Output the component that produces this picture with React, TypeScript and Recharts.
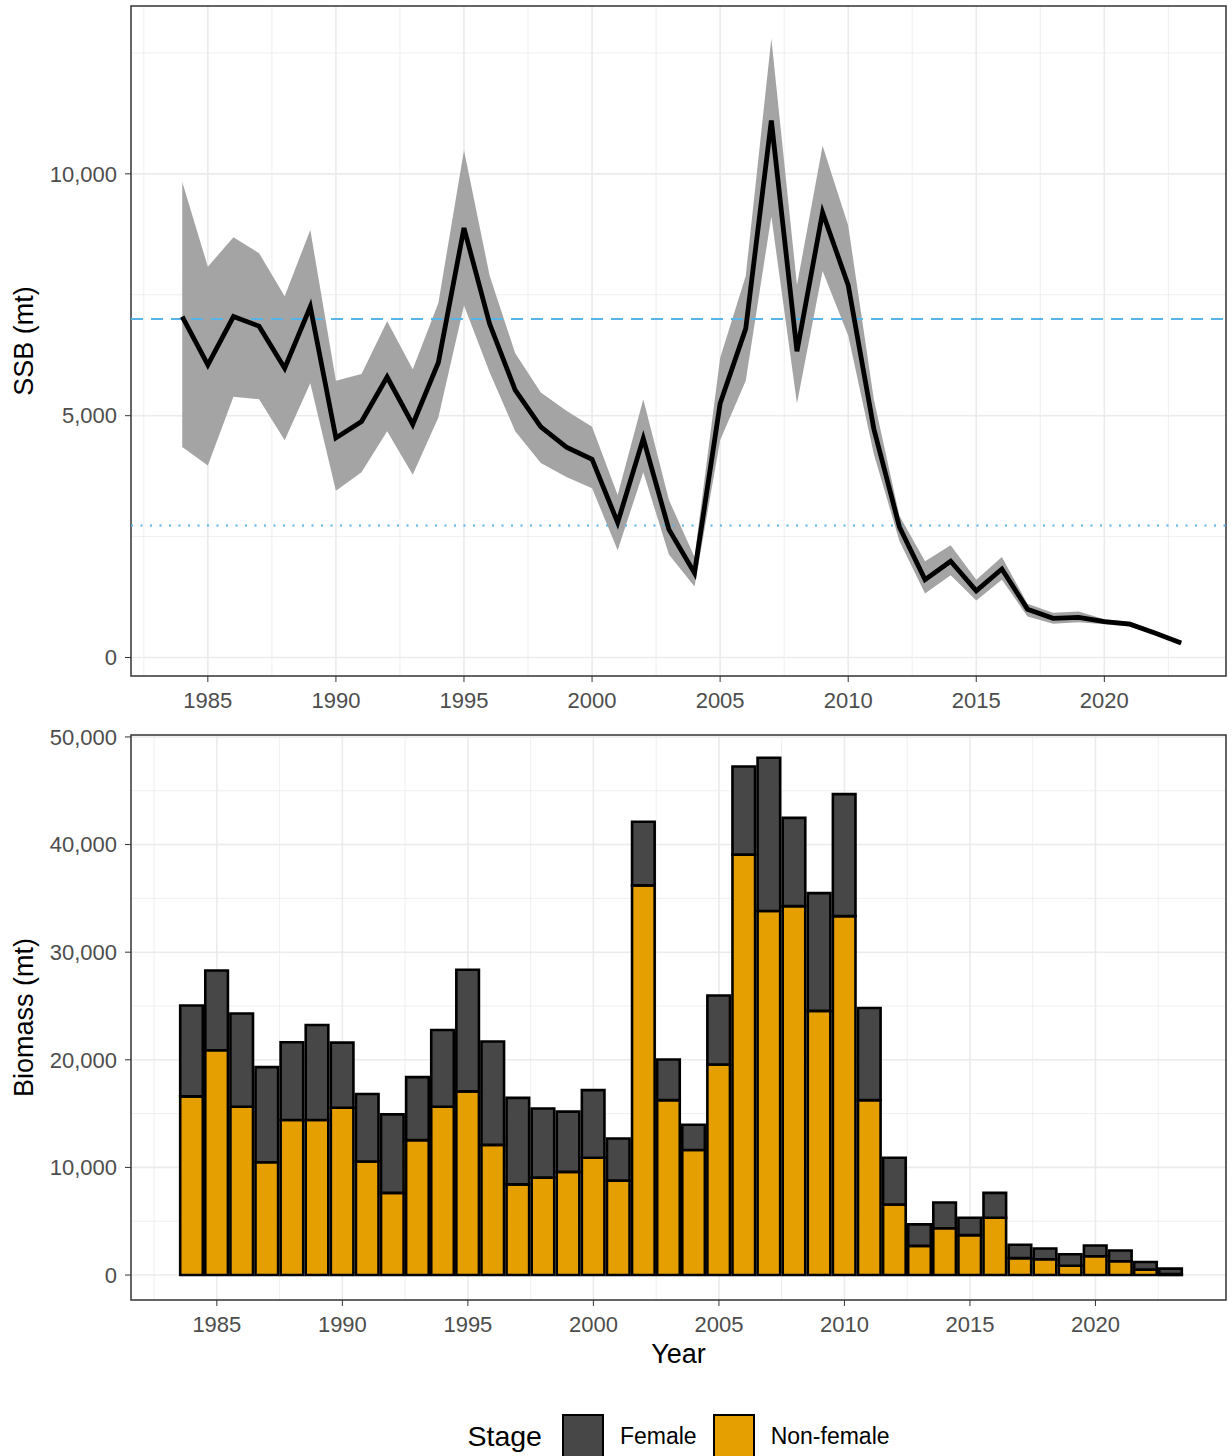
import { ComposedChart, Line, Area, Bar, XAxis, YAxis, CartesianGrid, ReferenceLine, ReferenceArea, Legend } from 'recharts';

const years = [
  1984, 1985, 1986, 1987, 1988, 1989, 1990, 1991, 1992, 1993,
  1994, 1995, 1996, 1997, 1998, 1999, 2000, 2001, 2002, 2003,
  2004, 2005, 2006, 2007, 2008, 2009, 2010, 2011, 2012, 2013,
  2014, 2015, 2016, 2017, 2018, 2019, 2020, 2021, 2022, 2023,
];

// spawning stock biomass (mt) with its interval
const ssb = [
  7050, 6050, 7050, 6850, 5980, 7250, 4540, 4880, 5800, 4820,
  6100, 8880, 6900, 5530, 4770, 4350, 4100, 2790, 4530, 2650,
  1750, 5250, 6800, 11100, 6330, 9200, 7700, 4730, 2700, 1610,
  1990, 1380, 1830, 1000, 810, 830, 740, 690, 500, 300,
];
const ssbLower = [
  4350, 3970, 5390, 5340, 4490, 5670, 3450, 3830, 4680, 3780,
  4960, 7280, 5900, 4680, 4020, 3730, 3500, 2220, 3830, 2130,
  1470, 4490, 5720, 9120, 5250, 7990, 6660, 4210, 2410, 1325,
  1700, 1180, 1610, 850, 700, 730, 690, 640, 470, 270,
];
const ssbUpper = [
  9830, 8080, 8690, 8360, 7470, 8840, 5720, 5860, 6950, 5960,
  7330, 10490, 7900, 6290, 5480, 5100, 4770, 3360, 5340, 3260,
  2080, 6190, 7890, 12800, 7700, 10580, 8930, 5340, 2930, 1990,
  2320, 1610, 2080, 1110, 925, 950, 790, 740, 540, 330,
];
const ssbTarget = 7000;
const ssbLimit = 2730;

// biomass by stage (mt)
const female = [
  8450, 7420, 8660, 8840, 7230, 8840, 6050, 6270, 7300, 5850,
  7130, 11300, 9610, 8040, 6420, 5590, 6280, 3920, 5910, 3780,
  2350, 6420, 8190, 14250, 8200, 10940, 11340, 8560, 4350, 2000,
  2390, 1610, 2310, 1250, 1000, 1070, 1000, 1000, 710, 520,
];
const nonFemale = [
  16600, 20880, 15640, 10480, 14400, 14400, 15550, 10550, 7630, 12540,
  15640, 17070, 12090, 8420, 9050, 9590, 10900, 8770, 36210, 16250,
  11620, 19560, 39060, 33820, 34280, 24550, 33350, 16250, 6550, 2710,
  4350, 3710, 5320, 1570, 1460, 860, 1750, 1280, 500, 80,
];

const yearTicks = [1985, 1990, 1995, 2000, 2005, 2010, 2015, 2020];
const yearMinor = [1982.5, 1987.5, 1992.5, 1997.5, 2002.5, 2007.5, 2012.5, 2017.5, 2022.5];
const ssbTicks = [0, 5000, 10000];
const ssbMinor = [2500, 7500, 12500];
const biomassTicks = [0, 10000, 20000, 30000, 40000, 50000];
const biomassMinor = [5000, 15000, 25000, 35000, 45000];

const ssbData = years.map((year, i) => ({ year, ssb: ssb[i], band: [ssbLower[i], ssbUpper[i]] }));
const biomassData = years.map((year, i) => ({ year, female: female[i], nonFemale: nonFemale[i] }));

const FEMALE = '#474747';
const ORANGE = '#E69F00';
const REF_BLUE = '#56B4E9';
const GRID = '#EBEBEB';
const TICK = { fill: '#4D4D4D', fontSize: 22 };

const stageItems = [
  { name: 'Female', color: FEMALE },
  { name: 'Non-female', color: ORANGE },
];

const fmt = (v: number) => v.toLocaleString('en-US');

const yTitle = (text: string) => (props: any) => {
  const vb = props.viewBox;
  const cy = vb.y + vb.height / 2;
  return (
    <text x={24} y={cy} transform={`rotate(-90, 24, ${cy})`} textAnchor="middle" dominantBaseline="central" fontSize={27} fill="#000">
      {text}
    </text>
  );
};

const xTitle = (props: any) => {
  const vb = props.viewBox;
  return (
    <text x={vb.x + vb.width / 2} y={vb.y + 63} textAnchor="middle" fontSize={27} fill="#000">
      Year
    </text>
  );
};

const StageLegend = () => (
  <div
    style={{
      display: 'flex', alignItems: 'flex-start', justifyContent: 'center',
      width: 1232, height: 40, paddingLeft: 131, paddingRight: 6, boxSizing: 'border-box',
    }}
  >
    <span style={{ fontSize: 28.5, lineHeight: '46px', marginTop: -3, marginRight: 20 }}>Stage</span>
    {stageItems.map((s, i) => (
      <div key={s.name} style={{ display: 'flex', alignItems: 'center', marginTop: -3, height: 46 }}>
        <div style={{ width: 38, height: 42, background: s.color, border: '2px solid #000', marginTop: 2 }} />
        <span style={{ fontSize: 23, marginLeft: 16, marginRight: i === 0 ? 16 : 0 }}>{s.name}</span>
      </div>
    ))}
  </div>
);

const SSB_X: [number, number] = [1982.0, 2024.75];
const SSB_Y: [number, number] = [-382, 13470];
const BIO_X: [number, number] = [1981.58, 2025.2];
const BIO_Y: [number, number] = [-2320, 50180];

export default function App() {
  return (
    <div style={{ position: 'absolute', left: 0, top: 0, width: 1232, height: 1456, background: '#fff', fontFamily: '"Liberation Sans", Arial, sans-serif', overflow: 'hidden' }}>
      <ComposedChart width={1232} height={720} data={ssbData} margin={{ top: 6, right: 6, bottom: 0, left: 0 }}>
        <CartesianGrid stroke={GRID} strokeWidth={0.8} verticalValues={yearMinor} horizontalValues={ssbMinor} />
        <CartesianGrid stroke={GRID} strokeWidth={1.6} verticalValues={yearTicks} horizontalValues={ssbTicks} />
        <XAxis
          type="number" dataKey="year" domain={SSB_X} ticks={yearTicks} allowDataOverflow
          height={44} tick={TICK} tickSize={6} tickMargin={10} axisLine={false} tickLine={{ stroke: '#333' }}
        />
        <YAxis
          type="number" domain={SSB_Y} ticks={ssbTicks} allowDataOverflow width={131}
          tick={TICK} tickSize={6} tickMargin={8} axisLine={false} tickLine={{ stroke: '#333' }}
          tickFormatter={fmt} label={yTitle('SSB (mt)')}
        />
        <Area dataKey="band" type="linear" fill="#A4A4A4" fillOpacity={1} stroke="none" isAnimationActive={false} />
        <ReferenceLine y={ssbTarget} stroke={REF_BLUE} strokeWidth={2} strokeDasharray="12 8" />
        <ReferenceLine y={ssbLimit} stroke={REF_BLUE} strokeWidth={2.2} strokeDasharray="2 7.5" />
        <Line dataKey="ssb" type="linear" stroke="#000" strokeWidth={4.8} dot={false} activeDot={false} isAnimationActive={false} />
        <ReferenceArea x1={SSB_X[0]} x2={SSB_X[1]} y1={SSB_Y[0]} y2={SSB_Y[1]} fill="none" stroke="#333" strokeWidth={1.5} ifOverflow="visible" />
      </ComposedChart>
      <ComposedChart width={1232} height={736} data={biomassData} margin={{ top: 15, right: 6, bottom: 0, left: 0 }}>
        <CartesianGrid stroke={GRID} strokeWidth={0.8} verticalValues={yearMinor} horizontalValues={biomassMinor} />
        <CartesianGrid stroke={GRID} strokeWidth={1.6} verticalValues={yearTicks} horizontalValues={biomassTicks} />
        <XAxis
          type="number" dataKey="year" domain={BIO_X} ticks={yearTicks} allowDataOverflow
          height={116} tick={TICK} tickSize={6} tickMargin={10} axisLine={false} tickLine={{ stroke: '#333' }}
          label={xTitle}
        />
        <YAxis
          type="number" domain={BIO_Y} ticks={biomassTicks} allowDataOverflow width={131}
          tick={TICK} tickSize={6} tickMargin={8} axisLine={false} tickLine={{ stroke: '#333' }}
          tickFormatter={fmt} label={yTitle('Biomass (mt)')}
        />
        <Bar dataKey="nonFemale" name="Non-female" stackId="s" fill={ORANGE} stroke="#000" strokeWidth={2.6} barSize={22.6} isAnimationActive={false} />
        <Bar dataKey="female" name="Female" stackId="s" fill={FEMALE} stroke="#000" strokeWidth={2.6} barSize={22.6} isAnimationActive={false} />
        <ReferenceArea x1={BIO_X[0]} x2={BIO_X[1]} y1={BIO_Y[0]} y2={BIO_Y[1]} fill="none" stroke="#333" strokeWidth={1.5} ifOverflow="visible" />
        <Legend verticalAlign="bottom" content={<StageLegend />} wrapperStyle={{ left: 0, width: 1232, height: 40 }} />
      </ComposedChart>
    </div>
  );
}
